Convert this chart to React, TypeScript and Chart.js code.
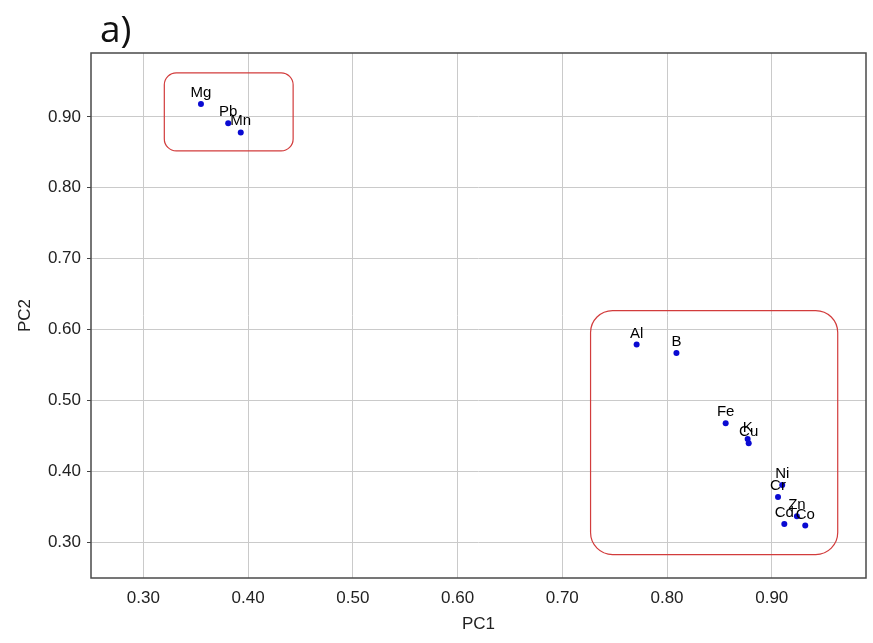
import React, { useEffect, useRef } from "react";
import { Chart, registerables } from "chart.js";

Chart.register(...registerables);

// ---- data ----
const elements = ["Mg", "Pb", "Mn", "Al", "B", "Fe", "K", "Cu", "Ni", "Cr", "Zn", "Cd", "Co"];
const pc1 = [0.355, 0.381, 0.393, 0.771, 0.809, 0.856, 0.877, 0.878, 0.910, 0.906, 0.924, 0.912, 0.932];
const pc2 = [0.918, 0.891, 0.878, 0.579, 0.567, 0.468, 0.446, 0.440, 0.381, 0.364, 0.337, 0.326, 0.324];

const xTickValues = [0.3, 0.4, 0.5, 0.6, 0.7, 0.8, 0.9];
const yTickValues = [0.3, 0.4, 0.5, 0.6, 0.7, 0.8, 0.9];

// grouping boxes (in data units)
const groupXMin = [0.320, 0.727];
const groupXMax = [0.443, 0.963];
const groupYMin = [0.852, 0.283];
const groupYMax = [0.962, 0.627];

const panelLabel = "a)";

const FONT = "'Liberation Sans', Arial, sans-serif";

export default function App() {
  const ref = useRef<HTMLCanvasElement | null>(null);

  useEffect(() => {
    const canvas = ref.current;
    if (!canvas) return;

    const decorPlugin = {
      id: "decor",
      beforeDatasetsDraw(chart: any) {
        const { ctx, chartArea, scales } = chart;
        ctx.save();
        // frame
        ctx.strokeStyle = "#4a4a4a";
        ctx.lineWidth = 1.5;
        ctx.strokeRect(chartArea.left, chartArea.top, chartArea.right - chartArea.left, chartArea.bottom - chartArea.top);
        // group boxes
        const radii = [12, 22];
        ctx.strokeStyle = "#d23c3c";
        ctx.lineWidth = 1.2;
        for (let i = 0; i < groupXMin.length; i++) {
          const x0 = scales.x.getPixelForValue(groupXMin[i]);
          const x1 = scales.x.getPixelForValue(groupXMax[i]);
          const y0 = scales.y.getPixelForValue(groupYMax[i]);
          const y1 = scales.y.getPixelForValue(groupYMin[i]);
          ctx.beginPath();
          (ctx as any).roundRect(x0, y0, x1 - x0, y1 - y0, radii[i]);
          ctx.stroke();
        }
        ctx.restore();
      },
      afterDatasetsDraw(chart: any) {
        const { ctx, chartArea } = chart;
        const meta = chart.getDatasetMeta(0);
        ctx.save();
        ctx.font = `15px ${FONT}`;
        ctx.fillStyle = "#000";
        ctx.textAlign = "center";
        ctx.textBaseline = "alphabetic";
        meta.data.forEach((pt: any, i: number) => {
          ctx.fillText(elements[i], pt.x, pt.y - 7);
        });
        // panel label
        ctx.font = `37px 'Open Sans', sans-serif`;
        ctx.fillStyle = "#111";
        ctx.textAlign = "left";
        ctx.fillText(panelLabel, chartArea.left + 9, chartArea.top - 11);
        ctx.restore();
      },
    };

    const chart = new Chart(canvas, {
      type: "scatter",
      data: {
        datasets: [
          {
            data: pc1.map((x, i) => ({ x, y: pc2[i] })),
            backgroundColor: "#0a0ad2",
            borderColor: "#0a0ad2",
            pointRadius: 3,
            pointBorderWidth: 0,
          },
        ],
      },
      options: {
        animation: false,
        responsive: false,
        devicePixelRatio: 1,
        layout: { padding: { top: 53, right: 7, left: 0, bottom: 0 } },
        plugins: { legend: { display: false }, tooltip: { enabled: false } },
        scales: {
          x: {
            type: "linear",
            min: 0.25,
            max: 0.99,
            afterBuildTicks: (s: any) => {
              s.ticks = xTickValues.map((value) => ({ value }));
            },
            afterFit: (s: any) => {
              s.height = 65;
            },
            ticks: {
              callback: (v: any) => Number(v).toFixed(2),
              font: { size: 17, family: FONT },
              color: "#222",
              padding: 10,
              maxRotation: 0,
            },
            grid: { color: "#cacaca", lineWidth: 1, drawTicks: false },
            border: { display: false },
            title: {
              display: true,
              text: "PC1",
              font: { size: 17, family: FONT },
              color: "#222",
              padding: { top: 0, bottom: 8 },
            },
          },
          y: {
            type: "linear",
            min: 0.25,
            max: 0.99,
            afterBuildTicks: (s: any) => {
              s.ticks = yTickValues.map((value) => ({ value }));
            },
            afterFit: (s: any) => {
              s.width = 91;
            },
            ticks: {
              callback: (v: any) => Number(v).toFixed(2),
              font: { size: 17, family: FONT },
              color: "#222",
              padding: 6,
            },
            grid: { color: "#cacaca", lineWidth: 1, drawTicks: true, tickLength: 4, tickColor: "#444" },
            border: { display: false },
            title: {
              display: true,
              text: "PC2",
              font: { size: 17, family: FONT },
              color: "#222",
              padding: { top: 15, bottom: 0 },
            },
          },
        },
      },
      plugins: [decorPlugin],
    } as any);

    return () => chart.destroy();
  }, []);

  return (
    <div style={{ position: "absolute", left: 0, top: 0, width: 873, height: 643, background: "#fff" }}>
      <canvas ref={ref} width={873} height={643} style={{ width: 873, height: 643, display: "block" }} />
    </div>
  );
}
